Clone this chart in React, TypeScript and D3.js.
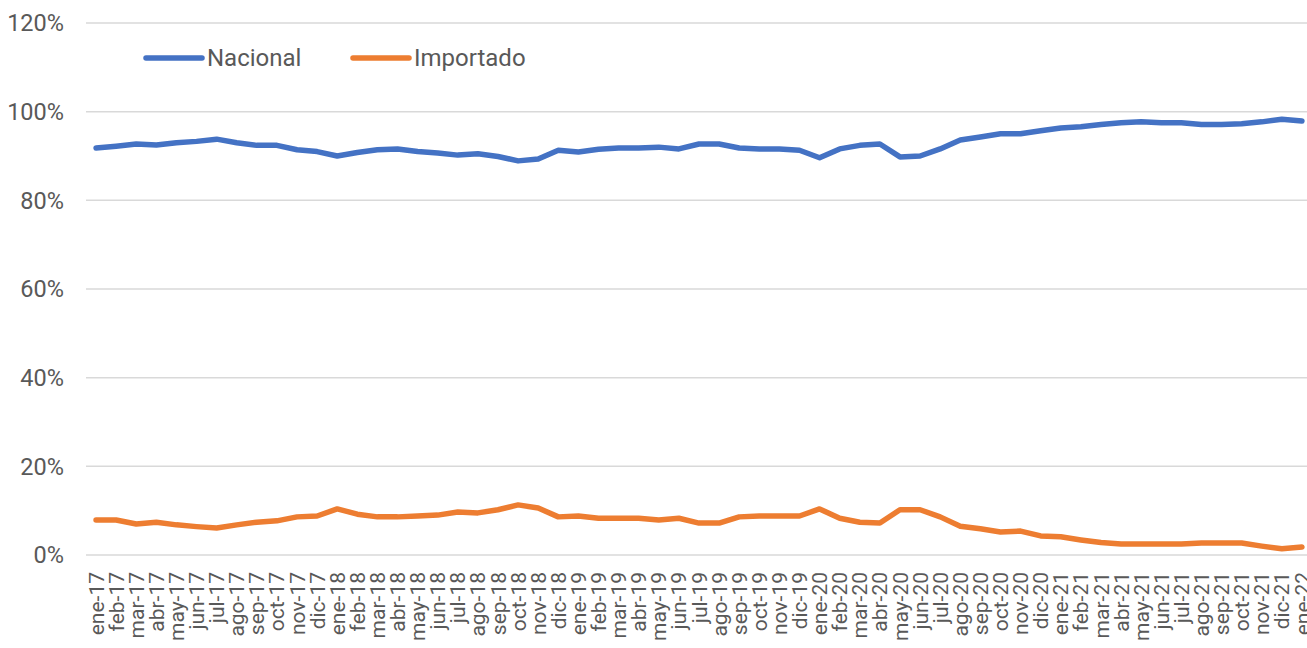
import React, { useEffect, useRef } from 'react';
import * as d3 from 'd3';

const months = ['ene', 'feb', 'mar', 'abr', 'may', 'jun', 'jul', 'ago', 'sep', 'oct', 'nov', 'dic'];
const categories: string[] = [
  ...[17, 18, 19, 20, 21].flatMap(y => months.map(m => `${m}-${y}`)),
  'ene-22',
];

const nacional = [
  91.8, 92.2, 92.7, 92.5, 93.0, 93.3, 93.8, 93.0, 92.4, 92.4, 91.4, 91.0,
  90.0, 90.8, 91.4, 91.6, 91.0, 90.7, 90.2, 90.5, 89.9, 88.9, 89.3, 91.3,
  90.9, 91.5, 91.8, 91.8, 92.0, 91.6, 92.7, 92.7, 91.8, 91.6, 91.6, 91.3,
  89.6, 91.6, 92.4, 92.7, 89.8, 90.0, 91.6, 93.6, 94.3, 95.0, 95.0, 95.7,
  96.3, 96.6, 97.1, 97.5, 97.7, 97.5, 97.5, 97.1, 97.1, 97.3, 97.7, 98.3,
  97.9,
];

const importado = [
  7.9, 7.9, 7.0, 7.4, 6.8, 6.4, 6.1, 6.8, 7.4, 7.7, 8.6, 8.8,
  10.4, 9.2, 8.6, 8.6, 8.8, 9.0, 9.7, 9.5, 10.2, 11.3, 10.6, 8.6,
  8.8, 8.3, 8.3, 8.3, 7.9, 8.3, 7.2, 7.2, 8.6, 8.8, 8.8, 8.8,
  10.4, 8.3, 7.4, 7.2, 10.2, 10.2, 8.6, 6.5, 5.9, 5.2, 5.4, 4.3,
  4.1, 3.4, 2.8, 2.5, 2.5, 2.5, 2.5, 2.7, 2.7, 2.7, 2.0, 1.4,
  1.8,
];

const yTicks = [0, 20, 40, 60, 80, 100, 120];

const series = [
  { name: 'Nacional', values: nacional, color: '#4472C4' },
  { name: 'Importado', values: importado, color: '#ED7D31' },
];

const W = 1307;
const H = 648;
const textColor = '#595959';
const font = 'Roboto, "Liberation Sans", sans-serif';

export default function App() {
  const svgRef = useRef<SVGSVGElement>(null);

  useEffect(() => {
    if (!svgRef.current) return;
    const svg = d3.select(svgRef.current);
    svg.selectAll('*').remove();

    const x = d3.scalePoint<string>().domain(categories).range([86, 1312]).padding(0.5);
    const y = d3.scaleLinear().domain([0, 120]).range([555, 23]);

    // gridlines
    svg.append('g')
      .selectAll('line')
      .data(yTicks)
      .join('line')
      .attr('x1', 86)
      .attr('x2', W)
      .attr('y1', d => y(d))
      .attr('y2', d => y(d))
      .attr('stroke', '#d9d9d9')
      .attr('stroke-width', 1.5);

    // y labels
    svg.append('g')
      .selectAll('text')
      .data(yTicks)
      .join('text')
      .attr('x', 64)
      .attr('y', d => y(d))
      .attr('dy', '0.35em')
      .attr('text-anchor', 'end')
      .attr('font-family', font)
      .attr('font-size', 23.5)
      .attr('fill', textColor)
      .text(d => `${d}%`);

    // x labels, rotated (bottom ones run off the page like the original)
    svg.append('g')
      .selectAll('text')
      .data(categories)
      .join('text')
      .attr('transform', d => `translate(${x(d)},572) rotate(-90)`)
      .attr('dy', '0.36em')
      .attr('text-anchor', 'end')
      .attr('font-family', font)
      .attr('font-size', 21)
      .attr('fill', textColor)
      .text(d => d);

    // lines
    const line = d3.line<number>()
      .x((_, i) => x(categories[i]) as number)
      .y(d => y(d));

    series.forEach(s => {
      svg.append('path')
        .datum(s.values)
        .attr('fill', 'none')
        .attr('stroke', s.color)
        .attr('stroke-width', 5.5)
        .attr('stroke-linejoin', 'round')
        .attr('stroke-linecap', 'round')
        .attr('d', line);
    });

    // legend
    const legendPos = [146, 353];
    const legend = svg.append('g');
    series.forEach((s, i) => {
      const lx = legendPos[i];
      legend.append('line')
        .attr('x1', lx).attr('x2', lx + 56)
        .attr('y1', 58).attr('y2', 58)
        .attr('stroke', s.color)
        .attr('stroke-width', 5.5)
        .attr('stroke-linecap', 'round');
      legend.append('text')
        .attr('x', lx + 61)
        .attr('y', 58)
        .attr('dy', '0.35em')
        .attr('font-family', font)
        .attr('font-size', 24)
        .attr('fill', textColor)
        .text(s.name);
    });
  }, []);

  return (
    <svg
      ref={svgRef}
      width={W}
      height={H}
      style={{ position: 'absolute', left: 0, top: 0, background: '#fff' }}
    />
  );
}
